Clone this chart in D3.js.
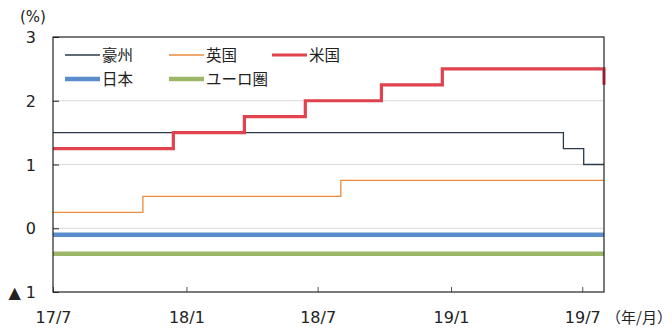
<!DOCTYPE html>
<html><head><meta charset="utf-8">
<script src="https://cdn.jsdelivr.net/npm/d3@7"></script>
<style>
body{margin:0;background:#fff;}
svg{display:block;}
</style></head>
<body>
<svg id="chart" width="672" height="334"></svg>
<script>
// ---- data ----
const seriesNames = ["豪州","英国","米国","日本","ユーロ圏"];
const australiaDates = ["2017-07-01","2019-06-05","2019-07-03","2019-07-31"];
const australiaValues = [1.5,1.25,1.0,1.0];
const ukDates = ["2017-07-01","2017-11-02","2018-08-02","2019-07-31"];
const ukValues = [0.25,0.5,0.75,0.75];
const usDates = ["2017-07-01","2017-12-14","2018-03-22","2018-06-14","2018-09-27","2018-12-20","2019-07-31"];
const usValues = [1.25,1.5,1.75,2.0,2.25,2.5,2.25];
const japanDates = ["2017-07-01","2019-07-31"];
const japanValues = [-0.1,-0.1];
const euroDates = ["2017-07-01","2019-07-31"];
const euroValues = [-0.4,-0.4];
const xTickDates = ["2017-07-01","2018-01-01","2018-07-01","2019-01-01","2019-07-01"];
const xTickLabels = ["17/7","18/1","18/7","19/1","19/7"];
const yTickValues = [-1,0,1,2,3];
const yTickLabels = ["▲ 1","0","1","2","3"];

const parse = d3.timeParse("%Y-%m-%d");
const svg = d3.select("#chart");
const L=53, R=604, T=37, B=292;
const x = d3.scaleTime().domain([parse("2017-07-01"), parse("2019-07-31")]).range([L,R]);
const y = d3.scaleLinear().domain([-1,3]).range([B,T]);

const latin = "'DejaVu Sans', Verdana, sans-serif";
const cjk = "'Noto Sans CJK JP', sans-serif";

// gridlines
svg.append("g").selectAll("line").data([0,1,2]).join("line")
  .attr("x1",L).attr("x2",R).attr("y1",d=>y(d)).attr("y2",d=>y(d))
  .attr("stroke","#d9d9d9").attr("stroke-width",1);

// series
const series = [
  {name:seriesNames[0], dates:australiaDates, values:australiaValues, color:"#2b3a4a", w:1.3},
  {name:seriesNames[1], dates:ukDates, values:ukValues, color:"#ed8b3d", w:1.3},
  {name:seriesNames[2], dates:usDates, values:usValues, color:"#e0434d", w:3.2},
  {name:seriesNames[3], dates:japanDates, values:japanValues, color:"#5b8ccb", w:4.5},
  {name:seriesNames[4], dates:euroDates, values:euroValues, color:"#9cb767", w:4.5}
];
const line = d3.line().x(d=>x(d[0])).y(d=>y(d[1])).curve(d3.curveStepAfter);
series.forEach(s=>{
  const pts = s.dates.map((d,i)=>[parse(d), s.values[i]]);
  svg.append("path").attr("d", line(pts)).attr("fill","none")
    .attr("stroke", s.color).attr("stroke-width", s.w).attr("stroke-linejoin","miter");
});

// axes
const xAxis = d3.axisBottom(x).tickValues(xTickDates.map(parse))
  .tickFormat((d,i)=>xTickLabels[i]).tickSizeInner(-5).tickSizeOuter(0).tickPadding(20);
const gx = svg.append("g").attr("transform",`translate(0,${B})`).call(xAxis);
gx.select(".domain").remove();
gx.selectAll(".tick line").attr("stroke","#555");
gx.selectAll("text").attr("font-family",latin).attr("font-size",16).attr("fill","#222");

const yAxis = d3.axisLeft(y).tickValues(yTickValues)
  .tickFormat((d,i)=>yTickLabels[i]).tickSizeInner(-6).tickSizeOuter(0).tickPadding(17);
const gy = svg.append("g").attr("transform",`translate(${L},0)`).call(yAxis);
gy.select(".domain").remove();
gy.selectAll(".tick line").attr("stroke","#222");
gy.selectAll("text").attr("font-family",latin).attr("font-size",16).attr("fill","#222").attr("dy","0.35em");

// frame
svg.append("rect").attr("x",L).attr("y",T).attr("width",R-L).attr("height",B-T)
  .attr("fill","none").attr("stroke","#222").attr("stroke-width",1.2);

// unit labels
svg.append("text").attr("x",33).attr("y",17).attr("dy","0.35em").attr("text-anchor","middle")
  .attr("font-family",latin).attr("font-size",15).attr("fill","#222").text("(%)");
svg.append("text").attr("x",606).attr("y",318).attr("dy","0.35em")
  .attr("font-family",cjk).attr("font-size",15).attr("fill","#222").text("（年/月）");

// legend
const legendPos = [[65,55],[169,55],[272,55],[65,79],[169,79]];
series.forEach((s,i)=>{
  const [lx,ly] = legendPos[i];
  svg.append("line").attr("x1",lx).attr("x2",lx+35).attr("y1",ly).attr("y2",ly)
    .attr("stroke",s.color).attr("stroke-width",s.w);
  svg.append("text").attr("x",lx+37).attr("y",ly).attr("dy","0.36em")
    .attr("font-family",cjk).attr("font-size",15.5).attr("fill","#222").text(s.name);
});
</script>
</body></html>
